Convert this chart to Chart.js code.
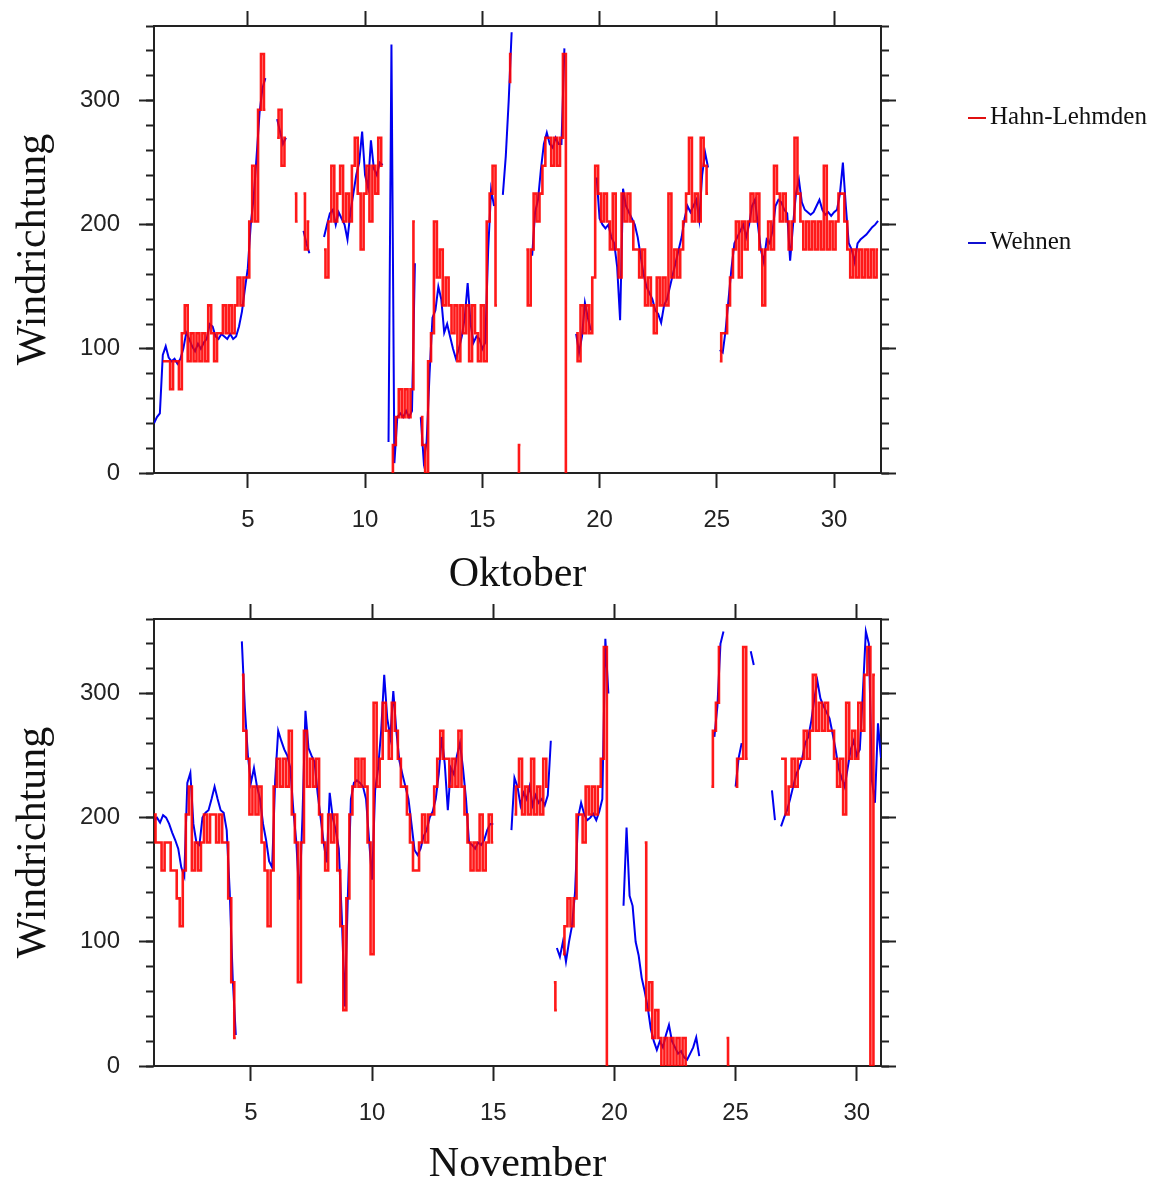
<!DOCTYPE html>
<html lang="de">
<head>
<meta charset="utf-8">
<title>Windrichtung Oktober / November</title>
<script src="https://cdn.jsdelivr.net/npm/chart.js@4.4.1/dist/chart.umd.min.js"></script>
<style>
  html, body { margin: 0; padding: 0; background: #fff; }
  body { position: relative; width: 1160px; height: 1186px; overflow: hidden; }
  .panel { position: absolute; left: 0; }
  #oben { top: 0; }
  #unten { top: 593px; }
  .legende { position: absolute; left: 968px; height: 30px; line-height: 30px; white-space: nowrap;
             font-family: "Liberation Serif", "Times New Roman", serif; font-size: 25px; color: #111; }
  .legende .linie { display: inline-block; width: 18px; height: 2px; vertical-align: middle; margin-right: 4px; }
</style>
</head>
<body>
<div class="panel" id="oben"><canvas id="chartOkt" width="1160" height="600"></canvas></div>
<div class="panel" id="unten"><canvas id="chartNov" width="1160" height="593"></canvas></div>
<div class="legende" style="top:101px"><span class="linie" style="background:#e01010"></span>Hahn-Lehmden</div>
<div class="legende" style="top:226px"><span class="linie" style="background:#1010d0"></span>Wehnen</div>

<script>
// Werte alle 3 Stunden (8 pro Tag, ab Tag 1 00 Uhr), null = Messluecke
const WERTE_PRO_TAG = 8;

// Achsenbeschriftung
const tageTicks = [5, 10, 15, 20, 25, 30];
const gradTicks = [0, 100, 200, 300];
const gradTicksKlein = [0, 20, 40, 60, 80, 100, 120, 140, 160, 180, 200, 220, 240, 260, 280, 300, 320, 340, 360];

// Oktober, Station Wehnen (blau)
const okt_wehnen = [
  40, 45, 48, 95, 102, 93, 90, 92,
  88, 92, 100, 113, 108, 102, 98, 104,
  100, 105, 108, 120, 118, 110, 108, 112,
  110, 108, 112, 108, 110, 118, 130, 148,
  165, 200, 222, 255, 290, 310, 318, null,
  null, null, 285, 275, 265, 270, null, null,
  null, null, null, 195, 185, 177, null, null,
  null, null, 190, 200, 209, 212, 200, 210,
  205, 200, 188, 210, 225, 240, 250, 275,
  240, 230, 268, 245, 240, 250, 248, null,
  25, 345, 8, 45, 48, 45, 50, 45,
  50, 169, null, 45, 10, 25, 80, 125,
  131, 150, 140, 113, 120, 110, 100, 92,
  100, 110, 125, 153, 120, 105, 110, 108,
  100, 105, 180, 228, 215, null, null, 224,
  255, 300, 355, null, null, null, null, null,
  null, 175, 210, 220, 245, 265, 274, 265,
  262, 270, 265, 265, 342, null, null, null,
  112, 97, 110, 137, 125, 115, null, 238,
  205, 200, 197, 200, 190, 185, 166, 123,
  229, 215, 210, 205, 200, 190, 175, 160,
  150, 145, 140, 131, 128, 121, 135, 140,
  150, 160, 170, 180, 190, 205, 215, 210,
  215, 220, 204, 240, 258, 246, null, null,
  null, 99, 97, 115, 140, 165, 185, 190,
  195, 200, 190, 200, 215, 220, 200, 180,
  170, 188, 185, 195, 215, 220, 218, 212,
  209, 171, 200, 225, 236, 218, 212, 210,
  208, 210, 215, 220, 212, 208, 210, 207,
  210, 212, 225, 250, 215, 185, 180, 170,
  185, 188, 190, 192, 195, 198, 200, 203
];

// Oktober, Station Hahn-Lehmden (rot, 16 Sektoren)
const okt_hahn = [
  null, null, null, 90, 90, 90, 67.5, 90,
  90, 67.5, 112.5, 135, 90, 112.5, 90, 112.5,
  90, 112.5, 90, 135, 112.5, 90, 112.5, 112.5,
  135, 112.5, 135, 112.5, 135, 157.5, 135, 157.5,
  157.5, 202.5, 247.5, 202.5, 292.5, 337.5, 292.5, null,
  null, null, 270, 292.5, 247.5, 270, null, null,
  225, 202.5, null, 225, 180, 202.5, null, null,
  null, null, 180, 157.5, 202.5, 247.5, 202.5, 225,
  247.5, 202.5, 225, 202.5, 247.5, 270, 225, 180,
  225, 247.5, 202.5, 247.5, 225, 270, 247.5, null,
  null, 0, 22.5, 45, 67.5, 45, 67.5, 45,
  67.5, 202.5, null, 45, 22.5, 0, 90, 112.5,
  202.5, 157.5, 180, 135, 157.5, 135, 112.5, 135,
  90, 135, 112.5, 135, 90, 135, 112.5, 90,
  135, 90, 202.5, 225, 247.5, 135, null, null,
  null, 315, 337.5, null, 0, 22.5, null, 180,
  135, 180, 225, 202.5, 225, 247.5, 270, 270,
  247.5, 270, 247.5, 270, 337.5, 0, null, null,
  112.5, 90, 135, 112.5, 135, 112.5, 157.5, 247.5,
  225, 202.5, 225, 202.5, 180, 225, 180, 157.5,
  225, 202.5, 225, 202.5, 180, 180, 157.5, 180,
  135, 157.5, 135, 112.5, 157.5, 135, 157.5, 135,
  225, 157.5, 180, 157.5, 180, 202.5, 225, 270,
  202.5, 225, 202.5, 270, 247.5, 225, null, null,
  null, 90, 112.5, 112.5, 135, 157.5, 180, 202.5,
  157.5, 202.5, 180, 202.5, 225, 202.5, 225, 180,
  135, 180, 202.5, 180, 247.5, 225, 202.5, 225,
  202.5, 180, 202.5, 270, 225, 202.5, 180, 202.5,
  180, 202.5, 180, 202.5, 180, 247.5, 180, 202.5,
  180, 202.5, 225, 225, 202.5, 180, 157.5, 180,
  157.5, 180, 157.5, 180, 157.5, 180, 157.5, 180
];

// November, Station Wehnen (blau)
const nov_wehnen = [
  198, 200, 196, 202, 200, 195, 188, 182,
  175, 160, 153, 228, 236, 195, 180, 178,
  200, 204, 206, 215, 225, 215, 206, 204,
  190, 140, 70, 25, null, 342, 288, 250,
  228, 240, 225, 215, 195, 182, 165, 160,
  230, 270, 262, 255, 250, 240, 206, 180,
  134, 200, 286, 256, 250, 245, 220, 200,
  180, 164, 220, 200, 190, 175, 120, 48,
  137, 215, 228, 230, 228, 225, 215, 182,
  150, 222, 240, 270, 315, 280, 265, 302,
  270, 246, 235, 225, 215, 195, 174, 170,
  175, 185, 190, 200, 205, 215, 235, 265,
  243, 206, 240, 235, 250, 260, 240, 215,
  180, 178, 175, 180, 178, 182, 190, 195,
  195, null, null, null, null, null, 190, 232,
  225, 210, 220, 215, 225, 210, 218, 212,
  215, 210, 218, 262, null, 95, 88, 100,
  84, 100, 113, 140, 200, 212, 203, 198,
  200, 203, 198, 205, 215, 344, 300, null,
  null, null, null, 129, 192, 137, 129, 100,
  89, 71, 60, 47, 30, 20, 13, 20,
  15, 25, 33, 20, 15, 10, 12, 7,
  5, 10, 15, 23, 8, null, null, null,
  null, 265, 290, 340, 350, null, null, null,
  225, 248, 260, null, null, 334, 323, null,
  null, null, null, null, 222, 198, null, 193,
  200, 206, 215, 225, 235, 240, 248, 260,
  265, 278, 296, 310, 296, 290, 285, 280,
  268, 255, 240, 232, 225, 240, 255, 262,
  250, 255, 300, 350, 340, 230, 212, 276,
  248
];

// November, Station Hahn-Lehmden (rot)
const nov_hahn = [
  202.5, 180, 180, 157.5, 180, 180, 157.5, 157.5,
  135, 112.5, 157.5, 202.5, 225, 157.5, 180, 157.5,
  180, 202.5, 180, 202.5, 202.5, 180, 202.5, 180,
  180, 135, 67.5, 22.5, null, 315, 270, 247.5,
  202.5, 225, 202.5, 225, 180, 157.5, 112.5, 157.5,
  225, 247.5, 225, 247.5, 225, 270, 202.5, 180,
  67.5, 180, 270, 225, 247.5, 225, 247.5, 202.5,
  180, 157.5, 202.5, 180, 202.5, 157.5, 112.5, 45,
  135, 202.5, 225, 247.5, 225, 247.5, 225, 180,
  90, 292.5, 225, 247.5, 292.5, 270, 247.5, 292.5,
  270, 247.5, 225, 225, 202.5, 180, 157.5, 157.5,
  180, 202.5, 180, 202.5, 202.5, 225, 247.5, 270,
  247.5, 247.5, 225, 247.5, 225, 270, 225, 202.5,
  180, 157.5, 180, 157.5, 202.5, 157.5, 180, 202.5,
  180, null, null, null, null, null, null, 202.5,
  225, 247.5, 202.5, 225, 202.5, 247.5, 202.5, 225,
  202.5, 247.5, 225, null, 67.5, 45, null, 90,
  112.5, 135, 112.5, 135, 202.5, 202.5, 180, 225,
  202.5, 225, 202.5, 225, 247.5, 337.5, 0, null,
  null, null, null, null, null, null, null, null,
  null, null, 180, 45, 67.5, 22.5, 45, 22.5,
  0, 22.5, 0, 22.5, 0, 22.5, 0, 22.5,
  0, null, null, null, null, null, null, null,
  225, 270, 292.5, 337.5, null, 22.5, 0, null,
  225, 247.5, 247.5, 337.5, 247.5, null, null, null,
  null, null, null, null, null, null, null, 247.5,
  247.5, 202.5, 225, 247.5, 225, 247.5, 247.5, 270,
  247.5, 270, 315, 270, 292.5, 270, 292.5, 270,
  270, 247.5, 225, 247.5, 202.5, 292.5, 247.5, 270,
  247.5, 292.5, 270, 315, 337.5, 0, 315, null,
  null
];

const tickFont = { family: '"Liberation Sans", Arial, sans-serif', size: 24 };
const titelFont = { family: '"Liberation Serif", "Times New Roman", serif', size: 42, lineHeight: 1 };
const schwarz = '#222';

function punkte(werte) {
  return werte.map((v, i) => ({ x: 1 + i / WERTE_PRO_TAG, y: v }));
}

function setzeTicks(werte) {
  return s => { s.ticks = werte.map(v => ({ value: v })); };
}

function achsen(xMax, monat, hoehe, titelAbstand) {
  const oben = 26;
  const unten = hoehe - (oben + 447);
  const gitter = (len) => ({ drawOnChartArea: false, tickLength: len, tickWidth: 2, tickColor: schwarz });
  const ohnePadding = s => { s.paddingTop = 0; s.paddingBottom = 0; s.paddingLeft = 0; s.paddingRight = 0; };
  return {
    x: {
      type: 'linear', position: 'bottom', min: 1, max: xMax,
      afterBuildTicks: setzeTicks(tageTicks),
      ticks: { font: tickFont, color: schwarz, padding: 18, maxRotation: 0, autoSkip: false },
      grid: gitter(15),
      border: { color: schwarz, width: 2 },
      title: { display: true, text: monat, font: titelFont, color: '#111', padding: { top: 0, bottom: titelAbstand } },
      afterFit: s => { s.height = unten; ohnePadding(s); }
    },
    xOben: {
      type: 'linear', position: 'top', min: 1, max: xMax,
      afterBuildTicks: setzeTicks(tageTicks),
      ticks: { display: false },
      grid: gitter(15),
      border: { color: schwarz, width: 2 },
      afterFit: s => { s.height = oben; ohnePadding(s); }
    },
    y: {
      type: 'linear', position: 'left', min: 0, max: 360, weight: 1,
      afterBuildTicks: setzeTicks(gradTicks),
      ticks: { font: tickFont, color: schwarz, padding: 19 },
      grid: gitter(15),
      border: { color: schwarz, width: 2 },
      title: { display: true, text: 'Windrichtung', font: titelFont, color: '#111', padding: { top: 13, bottom: 0 } },
      afterFit: s => { s.width = 154; ohnePadding(s); }
    },
    yKlein: {
      type: 'linear', position: 'left', min: 0, max: 360, weight: 0,
      afterBuildTicks: setzeTicks(gradTicksKlein),
      ticks: { display: false },
      grid: gitter(8),
      border: { display: false },
      afterFit: s => { s.width = 0; ohnePadding(s); }
    },
    yRechts: {
      type: 'linear', position: 'right', min: 0, max: 360, weight: 1,
      afterBuildTicks: setzeTicks(gradTicks),
      ticks: { display: false },
      grid: gitter(15),
      border: { color: schwarz, width: 2 },
      afterFit: s => { s.width = 1160 - 881; ohnePadding(s); }
    },
    yRechtsKlein: {
      type: 'linear', position: 'right', min: 0, max: 360, weight: 0,
      afterBuildTicks: setzeTicks(gradTicksKlein),
      ticks: { display: false },
      grid: gitter(8),
      border: { display: false },
      afterFit: s => { s.width = 0; ohnePadding(s); }
    }
  };
}

function zeichne(id, hahn, wehnen, xMax, monat, hoehe, titelAbstand) {
  return new Chart(document.getElementById(id), {
    type: 'line',
    data: {
      datasets: [
        {
          label: 'Hahn-Lehmden',
          data: punkte(hahn),
          borderColor: 'rgba(255,0,0,0.9)',
          borderWidth: 2.6,
          stepped: 'middle'
        },
        {
          label: 'Wehnen',
          data: punkte(wehnen),
          borderColor: '#0000f0',
          borderWidth: 2
        }
      ]
    },
    options: {
      responsive: false,
      animation: false,
      devicePixelRatio: 1,
      spanGaps: false,
      elements: { point: { radius: 0 }, line: { tension: 0 } },
      layout: { padding: 0 },
      plugins: { legend: { display: false }, tooltip: { enabled: false } },
      scales: achsen(xMax, monat, hoehe, titelAbstand)
    }
  });
}

zeichne('chartOkt', okt_hahn, okt_wehnen, 32, 'Oktober', 600, 4);
zeichne('chartNov', nov_hahn, nov_wehnen, 31, 'November', 593, 0);
</script>
</body>
</html>
